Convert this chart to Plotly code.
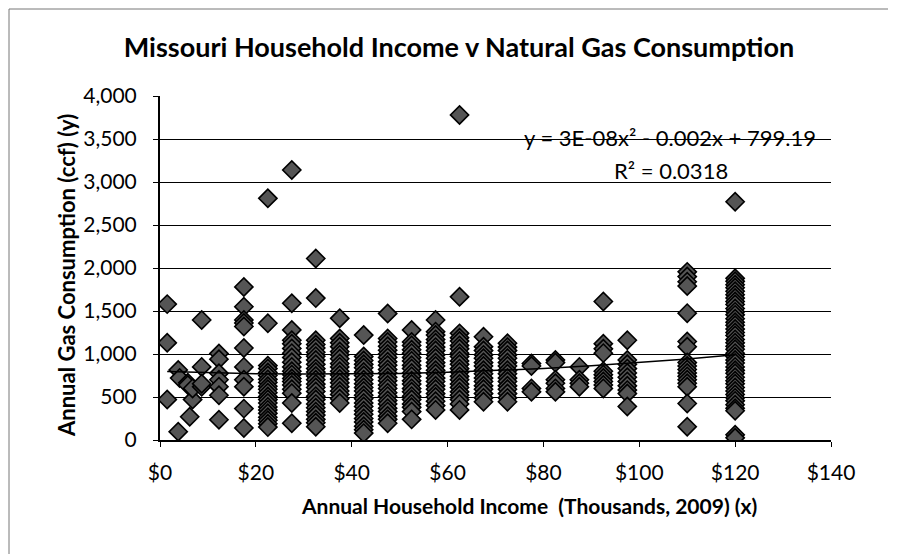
import plotly.graph_objects as go

# ---- data ----
income_k = [1.5, 3.8, 4.1, 5.8, 6.2, 6.8, 8.7, 12.3, 17.5, 22.5, 27.5, 32.5, 37.5,
            42.5, 47.5, 52.5, 57.5, 62.5, 67.5, 72.5, 77.5, 82.5, 87.5, 92.5,
            97.5, 110, 120]

gas_ccf = [
    [1580, 1130, 470],
    [815, 97],
    [720],
    [665, 640],
    [270],
    [470, 600],
    [1395, 850, 620, 655],
    [1005, 940, 775, 700, 620, 520, 235],
    [1780, 1550, 1395, 1360, 1320, 1070, 850, 700, 620, 365, 140],
    [2810, 1357, 865, 830, 785, 750, 705, 670, 625, 590, 550, 505, 470, 430, 385,
     350, 310, 265, 230, 190, 150],
    [3140, 1590, 1280, 1160, 1120, 1065, 1010, 960, 905, 850, 800, 760, 715, 680,
     640, 590, 545, 430, 195],
    [2110, 1650, 1160, 1110, 1070, 1020, 975, 930, 880, 830, 790, 745, 700, 650,
     610, 565, 510, 470, 420, 375, 330, 290, 240, 200, 155],
    [1415, 1180, 1130, 1085, 1030, 990, 945, 890, 850, 800, 755, 710, 665, 620,
     570, 530, 480, 430],
    [1220, 970, 925, 880, 840, 790, 750, 700, 655, 610, 570, 520, 480, 430, 390,
     340, 300, 250, 210, 160, 120, 80],
    [1470, 1180, 1140, 1090, 1045, 1000, 960, 910, 870, 820, 780, 730, 690, 640,
     600, 550, 510, 460, 420, 370, 330, 280, 240, 195],
    [1280, 1140, 1100, 1050, 1010, 960, 920, 870, 830, 780, 740, 690, 650, 600,
     560, 510, 470, 420, 380, 330, 240],
    [1395, 1260, 1220, 1170, 1130, 1080, 1040, 990, 950, 900, 860, 810, 770, 720,
     680, 630, 590, 540, 500, 450, 400, 350],
    [3780, 1665, 1240, 1190, 1150, 1100, 1060, 1010, 970, 920, 880, 830, 790, 740,
     700, 650, 610, 560, 520, 470, 420, 350],
    [1200, 1085, 1040, 990, 950, 900, 860, 810, 770, 720, 680, 630, 590, 540, 490,
     445],
    [1125, 1080, 1040, 990, 950, 900, 860, 810, 770, 720, 680, 630, 590, 540, 490,
     445],
    [890, 860, 600, 560],
    [930, 900, 700, 660, 600, 560],
    [850, 700, 660, 620],
    [1610, 1120, 1060, 1010, 800, 760, 720, 680, 640, 600],
    [1160, 930, 880, 830, 780, 730, 680, 630, 580, 540, 390],
    [1955, 1900, 1840, 1790, 1475, 1145, 1085, 900, 860, 820, 780, 740, 700, 660,
     620, 425, 155],
    [2770, 1880, 1845, 1805, 1770, 1730, 1690, 1650, 1610, 1575, 1530, 1490, 1455,
     1410, 1370, 1335, 1290, 1250, 1215, 1170, 1130, 1090, 1055, 1010, 970, 930,
     895, 850, 810, 775, 730, 690, 655, 610, 570, 530, 490, 455, 410, 370, 340,
     60, 25],
]

trend_coef = [3e-08, -0.002, 799.19]   # y = a*x^2 + b*x + c, x in dollars
trend_x_k = [1.5, 10, 20, 30, 40, 50, 60, 70, 80, 90, 100, 110, 120]

x_ticks = [0, 20, 40, 60, 80, 100, 120, 140]
x_tick_labels = ["$0", "$20", "$40", "$60", "$80", "$100", "$120", "$140"]
y_ticks = [0, 500, 1000, 1500, 2000, 2500, 3000, 3500, 4000]
y_tick_labels = ["0", "500", "1,000", "1,500", "2,000", "2,500", "3,000", "3,500", "4,000"]

# ---- build ----
xs, ys = [], []
for inc, vals in zip(income_k, gas_ccf):
    for v in vals:
        xs.append(inc)
        ys.append(v)

a, b, c = trend_coef
trend_y = [a * (x * 1000) ** 2 + b * (x * 1000) + c for x in trend_x_k]

FONT = "Lato"
BODY = 8                      # page body margin offset
W, H = 898 - BODY, 554 - BODY
PX0, PX1, PY0, PY1 = 160, 831, 96, 440   # plot area in page pixels


def px(x):
    return (x - PX0) / (PX1 - PX0)


def py(y):
    return (PY1 - y) / (PY1 - PY0)


fig = go.Figure()
fig.add_trace(go.Scatter(
    x=xs, y=ys, mode="markers",
    marker=dict(symbol="diamond", size=14, color="#555555",
                line=dict(color="#000000", width=1.6)),
    showlegend=False, hoverinfo="x+y"))
fig.add_trace(go.Scatter(
    x=trend_x_k, y=trend_y, mode="lines",
    line=dict(color="#000000", width=1.5), showlegend=False))

fig.update_layout(
    width=W, height=H,
    margin=dict(l=PX0 - BODY, r=W - (PX1 - BODY), t=PY0 - BODY, b=H - (PY1 - BODY)),
    paper_bgcolor="white", plot_bgcolor="white",
    font=dict(family=FONT, color="#000000"),
    title=dict(text="<b>Missouri Household Income v Natural Gas Consumption</b>",
               x=(459 - BODY) / W, xanchor="center", xref="container",
               y=1 - (48 - BODY) / H, yanchor="middle",
               font=dict(family=FONT, size=27, color="#000000")),
    xaxis=dict(range=[0, 140], tickvals=x_ticks, ticktext=x_tick_labels,
               showgrid=False, zeroline=False, showline=True, linecolor="#000000",
               linewidth=2, ticks="outside", ticklen=5, tickcolor="#000000",
               ticklabelstandoff=8,
               tickfont=dict(family=FONT, size=21)),
    yaxis=dict(range=[0, 4000], tickvals=y_ticks, ticktext=y_tick_labels,
               showgrid=True, gridcolor="#000000", gridwidth=1,
               zeroline=False, showline=True, linecolor="#000000", linewidth=2,
               ticks="outside", ticklen=5, tickcolor="#000000",
               ticklabelstandoff=12,
               tickfont=dict(family=FONT, size=21)),
)

# axis titles
fig.add_annotation(xref="paper", yref="paper", x=px(529), y=py(506),
                   text="<b>Annual Household Income  (Thousands, 2009) (x)</b>",
                   showarrow=False, xanchor="center", yanchor="middle",
                   font=dict(family=FONT, size=21, color="#000000"))
fig.add_annotation(xref="paper", yref="paper", x=px(66), y=py(276),
                   text="<b>Annual Gas Consumption (ccf) (y)</b>", textangle=-90,
                   showarrow=False, xanchor="center", yanchor="middle",
                   font=dict(family=FONT, size=22, color="#000000"))

# trendline label
fig.add_annotation(xref="paper", yref="paper", x=px(670), y=py(137),
                   text="y = 3E-08x² - 0.002x + 799.19", showarrow=False,
                   xanchor="center", yanchor="middle",
                   font=dict(family=FONT, size=22, color="#000000"))
fig.add_annotation(xref="paper", yref="paper", x=px(671), y=py(170),
                   text="R² = 0.0318", showarrow=False,
                   xanchor="center", yanchor="middle",
                   font=dict(family=FONT, size=22, color="#000000"))

# chart-area border (top and left edges as seen in the scan)
fig.add_shape(type="line", xref="paper", yref="paper",
              x0=px(9), x1=px(888), y0=py(9), y1=py(9),
              line=dict(color="#777777", width=1))
fig.add_shape(type="line", xref="paper", yref="paper",
              x0=px(9), x1=px(9), y0=py(9), y1=py(570),
              line=dict(color="#777777", width=1))

fig.write_html("out.html")
